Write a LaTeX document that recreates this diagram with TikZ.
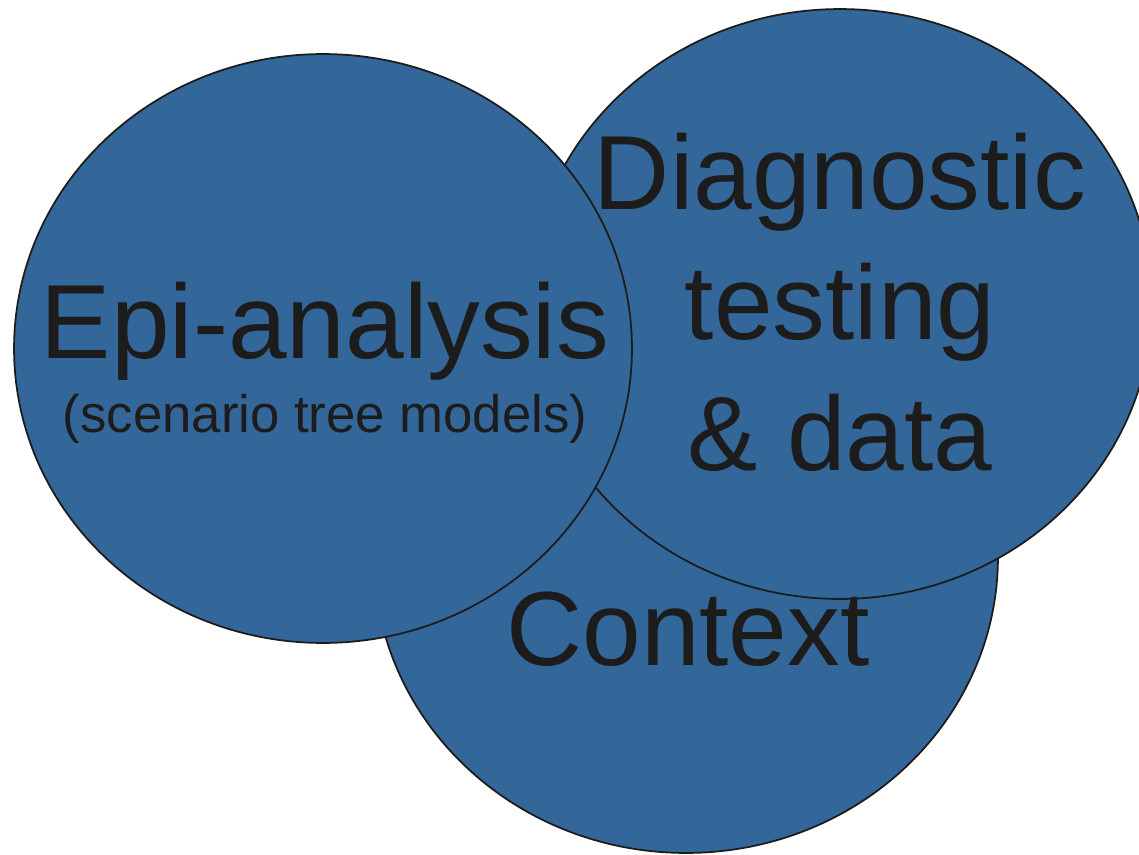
\documentclass[tikz,border=0pt]{standalone}
\usepackage{fontspec}
\setmainfont{Liberation Sans}
\usepackage{tikz}
\usetikzlibrary{shapes.geometric}
\definecolor{vennblue}{HTML}{336699}
\definecolor{inkgrey}{HTML}{1C1C1C}
\tikzset{
  venn/.style={ draw=inkgrey, ellipse, fill=vennblue, line width=1pt, inner sep=0pt }
}
\tikzset{
  bigtxt/.style={ text=inkgrey, font=\fontsize{60}{74}\selectfont, align=center, inner sep=0pt }
}
\tikzset{
  smalltxt/.style={ text=inkgrey, font=\fontsize{30}{36}\selectfont, inner sep=0pt }
}

\begin{document}
\begin{tikzpicture}[x=0.02cm, y=-0.02cm]
  \fill[white] (0,0) rectangle (1139,855);
  \clip (0,0) rectangle (1139,855);
  % three overlapping areas, back to front
  \node[venn, minimum width=12.48cm, minimum height=11.84cm] (ctx) at (686,557) {};
  \node[venn, minimum width=12.48cm, minimum height=11.8cm] (diag) at (840,304) {};
  \node[venn, minimum width=12.36cm, minimum height=11.78cm] (epi) at (323,348.5) {};
  % labels (base = last line)
  \node[bigtxt, anchor=base] (ctxtxt) at (688,665) {Context};
  \node[bigtxt, anchor=base] (diagtxt) at (840,470) {Diagnostic\\testing\\\& data};
  \node[bigtxt, anchor=base] (epitxt) at (325,358) {Epi-analysis};
  \node[smalltxt, anchor=base] (episub) at (325,432) {(scenario tree models)};
\end{tikzpicture}
\end{document}
